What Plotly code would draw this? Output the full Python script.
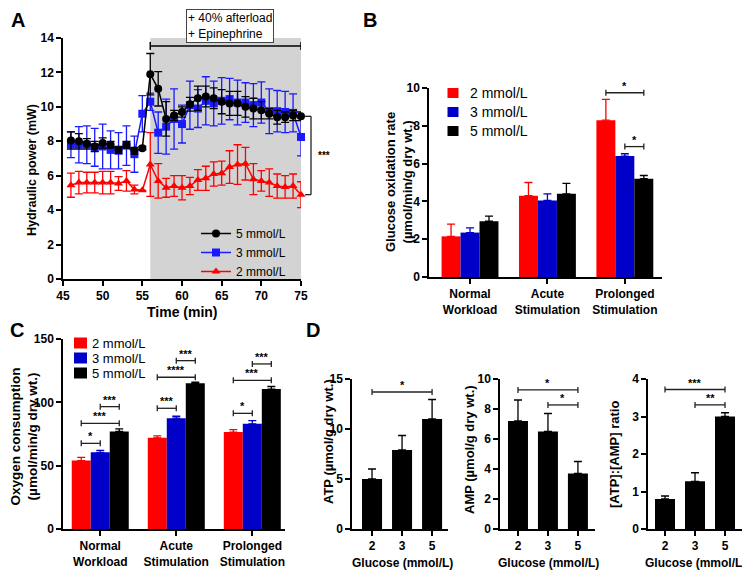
import plotly.graph_objects as go

# The page body adds an 8px margin, so the figure is sized to the remaining window
OFFSET = 8
WIN_W, WIN_H = 750, 573
W, H = WIN_W - OFFSET, WIN_H - OFFSET
FONT = "Liberation Sans, Arial, Helvetica, sans-serif"

# ---------------- Panel A data ----------------
time_min = list(range(46, 76))
power_5 = [8.05, 8.0, 7.85, 7.7, 7.9, 7.8, 7.5, 7.8, 7.45, 7.6, 11.9, 11.05, 9.3, 9.5, 9.7,
           10.15, 10.5, 10.6, 10.5, 10.3, 10.2, 10.2, 10.0, 9.9, 9.8, 9.6, 9.4, 9.4, 9.5, 9.45]
power_5_err = [0.5, 0.45, 0.3, 0.3, 0.3, 0.2, 0.2, 0.2, 0.2, 0.1, 1.2, 1.0, 1.0, 0.3, 0.3,
               0.4, 0.7, 0.6, 0.6, 0.7, 0.7, 0.7, 0.6, 0.6, 0.5, 0.3, 0.4, 0.3, 0.3, 0.25]
power_3 = [7.8, 7.8, 7.8, 7.65, 7.7, 7.5, 7.45, 7.75, 7.25, 9.6, 10.3, 8.5, 8.85, 9.3, 9.0,
           10.1, 9.9, 10.35, 10.2, 10.35, 10.45, 10.25, 10.25, 10.1, 10.25, 9.75, 9.75, 9.7, 9.65, 8.25]
power_3_err = [0.75, 1.05, 1.1, 1.1, 1.3, 1.1, 1.05, 1.15, 1.05, 1.05, 0.5, 1.2, 1.6, 1.75, 1.1,
               1.4, 1.1, 1.4, 1.3, 1.35, 1.2, 1.3, 1.15, 1.25, 1.2, 1.3, 1.2, 1.2, 1.1, 1.1]
power_2 = [5.45, 5.6, 5.6, 5.6, 5.6, 5.6, 5.55, 5.7, 5.2, 5.15, 6.65, 5.7, 5.3, 5.4, 5.3,
           5.4, 5.75, 5.85, 6.1, 6.15, 6.5, 6.65, 6.7, 5.8, 5.7, 5.6, 5.4, 5.35, 5.4, 4.9]
power_2_err = [0.7, 0.65, 0.6, 0.6, 0.65, 0.65, 0.4, 0.6, 0.25, 0.0, 1.85, 1.0, 0.55, 0.6, 0.7,
               0.5, 0.6, 0.7, 0.7, 0.7, 0.95, 1.15, 0.95, 0.9, 0.6, 0.8, 0.7, 0.65, 0.7, 0.75]
stim_window = [56, 75]

# ---------------- Panel B data ----------------
workload_cats = ["Normal<br>Workload", "Acute<br>Stimulation", "Prolonged<br>Stimulation"]
gox_2 = [2.15, 4.3, 8.3]
gox_2_err = [0.65, 0.7, 1.1]
gox_3 = [2.35, 4.05, 6.4]
gox_3_err = [0.25, 0.35, 0.12]
gox_5 = [2.95, 4.4, 5.2]
gox_5_err = [0.27, 0.55, 0.17]
# (group, bar_from, bar_to, height, label)
gox_sig = [(2, 0, 2, 9.75, "*"), (2, 1, 2, 6.9, "*")]

# ---------------- Panel C data ----------------
o2_2 = [54, 72, 76.5]
o2_2_err = [2.5, 1.5, 2.0]
o2_3 = [60.5, 87.5, 83]
o2_3_err = [1.5, 1.5, 2.5]
o2_5 = [77, 115, 110.5]
o2_5_err = [2.0, 1.0, 2.0]
o2_sig = [(0, 0, 1, 67.6, "*"), (0, 0, 2, 83.4, "***"), (0, 1, 2, 96.6, "***"),
          (1, 0, 1, 95.3, "***"), (1, 0, 2, 119.8, "****"), (1, 1, 2, 132.9, "***"),
          (2, 0, 1, 91.3, "*"), (2, 0, 2, 117.4, "***"), (2, 1, 2, 130.3, "***")]

# ---------------- Panel D data ----------------
glucose_cats = ["2", "3", "5"]
atp = [5.0, 7.9, 11.0]
atp_err = [1.0, 1.45, 1.95]
amp = [7.2, 6.5, 3.7]
amp_err = [1.4, 1.2, 0.8]
ratio = [0.8, 1.27, 3.0]
ratio_err = [0.08, 0.23, 0.1]
atp_sig = [(0, 2, 13.7, "*")]
amp_sig = [(0, 2, 9.27, "*"), (1, 2, 8.27, "*")]
ratio_sig = [(0, 2, 3.72, "***"), (1, 2, 3.31, "**")]

series_labels = ["2 mmol/L", "3 mmol/L", "5 mmol/L"]
RED, BLUE_BAR, BLUE_PT, BLACK = "#ff0000", "#0000c8", "#1a1aff", "#000000"
bar_colors = [RED, BLUE_BAR, BLACK]


def px(x):
    """window pixel x -> paper fraction"""
    return (x - OFFSET) / W


def py(y):
    """window pixel y -> paper fraction"""
    return 1 - (y - OFFSET) / H


fig = go.Figure()

# ---------- Panel A traces ----------
for vals, errs, color, sym, name, rank in [
    (power_2, power_2_err, RED, "triangle-up", series_labels[0], 3),
    (power_3, power_3_err, BLUE_PT, "square", series_labels[1], 2),
    (power_5, power_5_err, BLACK, "circle", series_labels[2], 1),
]:
    fig.add_trace(go.Scatter(
        x=time_min, y=vals, mode="lines+markers", name=name, legendrank=rank,
        line=dict(color=color, width=1.5),
        marker=dict(symbol=sym, size=8, color=color),
        error_y=dict(type="data", array=errs, color=color, thickness=1.3, width=4),
        xaxis="x", yaxis="y", cliponaxis=False,
    ))


# ---------- Grouped bar helper ----------
def grouped(cats, series, xa, ya, width):
    n = len(series)
    for j, (vals, errs, color, name) in enumerate(series):
        fig.add_trace(go.Bar(
            x=cats, y=vals, name=name, width=width, offset=(j - n / 2) * width,
            marker=dict(color=color, line=dict(width=0)),
            error_y=dict(type="data", array=errs, arrayminus=[0] * len(errs), symmetric=False,
                         color=color, thickness=1.3, width=4),
            xaxis=xa, yaxis=ya, showlegend=False,
        ))


bw_B = 0.245
grouped(workload_cats, [(gox_2, gox_2_err, RED, series_labels[0]),
                        (gox_3, gox_3_err, BLUE_BAR, series_labels[1]),
                        (gox_5, gox_5_err, BLACK, series_labels[2])], "x2", "y2", bw_B)
bw_C = 0.25
grouped(workload_cats, [(o2_2, o2_2_err, RED, series_labels[0]),
                        (o2_3, o2_3_err, BLUE_BAR, series_labels[1]),
                        (o2_5, o2_5_err, BLACK, series_labels[2])], "x3", "y3", bw_C)

bw_D = 0.667
for vals, errs, xa, ya in [(atp, atp_err, "x4", "y4"), (amp, amp_err, "x5", "y5"),
                           (ratio, ratio_err, "x6", "y6")]:
    fig.add_trace(go.Bar(
        x=glucose_cats, y=vals, width=bw_D, marker=dict(color=BLACK, line=dict(width=0)),
        error_y=dict(type="data", array=errs, arrayminus=[0] * 3, symmetric=False,
                     color=BLACK, thickness=1.3, width=4),
        xaxis=xa, yaxis=ya, showlegend=False,
    ))

# ---------- Axes ----------
tickfont = dict(family=FONT, size=12, color="black", weight="bold")
common = dict(showline=True, linecolor="black", linewidth=1.5, ticks="outside", ticklen=5,
              tickwidth=1.5, tickcolor="black", showgrid=False, zeroline=False,
              tickfont=tickfont, fixedrange=True, automargin=False)

fig.update_layout(
    xaxis=dict(domain=[px(63), px(301)], range=[45, 75], dtick=5, anchor="y", **common),
    yaxis=dict(domain=[py(279), py(38)], range=[0, 14], dtick=2, anchor="x", **common),
    xaxis2=dict(domain=[px(429), px(662)], type="category", range=[-0.53, 2.48], anchor="y2", **common),
    yaxis2=dict(domain=[py(277), py(88)], range=[0, 10], dtick=2, anchor="x2", **common),
    xaxis3=dict(domain=[px(63), px(285)], type="category", range=[-0.49, 2.43], anchor="y3", **common),
    yaxis3=dict(domain=[py(529), py(339)], range=[0, 150], dtick=50, anchor="x3", **common),
    xaxis4=dict(domain=[px(352), px(448)], type="category", range=[-0.667, 2.53], anchor="y4", **common),
    yaxis4=dict(domain=[py(529), py(379)], range=[0, 15], dtick=5, anchor="x4", **common),
    xaxis5=dict(domain=[px(500), px(595)], type="category", range=[-0.6, 2.57], anchor="y5", **common),
    yaxis5=dict(domain=[py(529), py(379)], range=[0, 10], dtick=2, anchor="x5", **common),
    xaxis6=dict(domain=[px(648), px(743)], type="category", range=[-0.567, 2.6], anchor="y6", **common),
    yaxis6=dict(domain=[py(529), py(379)], range=[0, 4], dtick=1, anchor="x6", **common),
)

shapes = []
annotations = []
LINE = dict(color="#222222", width=1.3)


def bracket(xref, yref, x0, x1, y, label, cap=3, fsize=11):
    shapes.append(dict(type="line", xref=xref, yref=yref, x0=x0, x1=x1, y0=y, y1=y, line=LINE))
    for xx in (x0, x1):
        shapes.append(dict(type="line", xref=xref, yref=yref, x0=xx, x1=xx, ysizemode="pixel",
                           yanchor=y, y0=-cap, y1=cap, line=LINE))
    annotations.append(dict(xref=xref, yref=yref, x=(x0 + x1) / 2, y=y, text=label,
                            showarrow=False, xanchor="center", yanchor="bottom", yshift=-1,
                            font=dict(family=FONT, size=fsize, color="black", weight="bold")))


def bar_center(group, j, n, width):
    return group + (j - n / 2 + 0.5) * width


def box_legend(x_sq, y_rows, sq_w, sq_h, x_text, fsize):
    for lab, col, yy in zip(series_labels, bar_colors, y_rows):
        shapes.append(dict(type="rect", xref="paper", yref="paper",
                           x0=px(x_sq - sq_w / 2), x1=px(x_sq + sq_w / 2),
                           y0=py(yy + sq_h / 2), y1=py(yy - sq_h / 2),
                           fillcolor=col, line=dict(width=0)))
        annotations.append(dict(xref="paper", yref="paper", x=px(x_text), y=py(yy), text=lab,
                                xanchor="left", yanchor="middle", showarrow=False,
                                font=dict(family=FONT, size=fsize, color="black")))


# Panel A shading and top bracket
shapes.append(dict(type="rect", xref="x", yref="y", x0=stim_window[0], x1=stim_window[1],
                   y0=0, y1=14, fillcolor="#d3d3d3", line=dict(width=0), layer="below"))
shapes.append(dict(type="line", xref="x", yref="y", x0=stim_window[0], x1=stim_window[1],
                   y0=13.54, y1=13.54, line=dict(color="black", width=1.5)))
for xx in stim_window:
    shapes.append(dict(type="line", xref="x", yref="y", x0=xx, x1=xx, ysizemode="pixel",
                       yanchor=13.54, y0=-4, y1=4, line=dict(color="black", width=1.5)))
annotations.append(dict(xref="paper", yref="paper", x=px(229.5), y=py(26),
                        xanchor="center", yanchor="middle",
                        text="+ 40% afterload<br>+ Epinephrine", align="left", showarrow=False,
                        bordercolor="#444444", borderwidth=1, borderpad=1, bgcolor="white",
                        font=dict(family=FONT, size=12, color="black")))
# Panel A right significance bracket (5 mmol/L vs 2 mmol/L at end)
y_hi, y_lo = power_5[-1], power_2[-1]
shapes.append(dict(type="line", xref="paper", yref="y", x0=px(311), x1=px(311), y0=y_lo, y1=y_hi,
                   line=LINE))
for yy in (y_lo, y_hi):
    shapes.append(dict(type="line", xref="paper", yref="y", x0=px(305), x1=px(311), y0=yy, y1=yy,
                       line=LINE))
annotations.append(dict(xref="paper", yref="y", x=px(316), y=(y_hi + y_lo) / 2, text="***",
                        xanchor="left", yanchor="middle", showarrow=False,
                        font=dict(family=FONT, size=10, color="black", weight="bold")))

for g, a, b, h, lab in gox_sig:
    bracket("x2", "y2", bar_center(g, a, 3, bw_B), bar_center(g, b, 3, bw_B), h, lab)
for g, a, b, h, lab in o2_sig:
    bracket("x3", "y3", bar_center(g, a, 3, bw_C), bar_center(g, b, 3, bw_C), h, lab)
for sig, xa, ya in [(atp_sig, "x4", "y4"), (amp_sig, "x5", "y5"), (ratio_sig, "x6", "y6")]:
    for a, b, h, lab in sig:
        bracket(xa, ya, a, b, h, lab)

# Legends for bar panels B and C
box_legend(453, [93, 112, 131], 11, 10, 468, 14)
box_legend(80.5, [343, 358, 373], 13, 11, 90, 13)


# Axis titles
def title(x, y, text, angle=-90, size=13):
    annotations.append(dict(xref="paper", yref="paper", x=px(x), y=py(y), text=text,
                            textangle=angle, showarrow=False, xanchor="center", yanchor="middle",
                            font=dict(family=FONT, size=size, color="black", weight="bold")))


title(32, 170, "Hydraulic power (mW)", size=12.5)
title(182, 312, "Time (min)", angle=0, size=14)
title(399, 182, "Glucose oxidation rate<br>(µmol/min/g dry wt.)")
title(23.5, 437, "Oxygen consumption<br>(µmol/min/g dry wt.)", size=13.5)
title(328, 442, "ATP (µmol/g dry wt.)")
title(469, 450, "AMP (µmol/g dry wt.)")
title(614, 455, "[ATP]:[AMP] ratio")
for cx in (402, 548, 695):
    title(cx, 563, "Glucose (mmol/L)", angle=0, size=12)

# Panel letters (top ones anchored at the top edge of the figure so they stay inside it)
for lab, x, y, ya in [("A", 18, 8, "top"), ("B", 370, 8, "top"),
                      ("C", 17, 330, "middle"), ("D", 313, 330, "middle")]:
    annotations.append(dict(xref="paper", yref="paper", x=px(x), y=py(y), text=lab,
                            showarrow=False, xanchor="center", yanchor=ya, borderpad=0,
                            font=dict(family=FONT, size=20, color="black", weight="bold")))

fig.update_layout(
    width=W, height=H, margin=dict(l=0, r=0, t=0, b=0, autoexpand=False),
    paper_bgcolor="white", plot_bgcolor="rgba(0,0,0,0)",
    barmode="overlay", showlegend=True,
    font=dict(family=FONT, color="black"),
    shapes=shapes, annotations=annotations,
    legend=dict(x=px(196), y=py(219), font=dict(family=FONT, size=12, color="black"),
                bgcolor="rgba(0,0,0,0)", borderwidth=0, xanchor="left", yanchor="top",
                tracegroupgap=0),
)

fig.write_html("out.html")
